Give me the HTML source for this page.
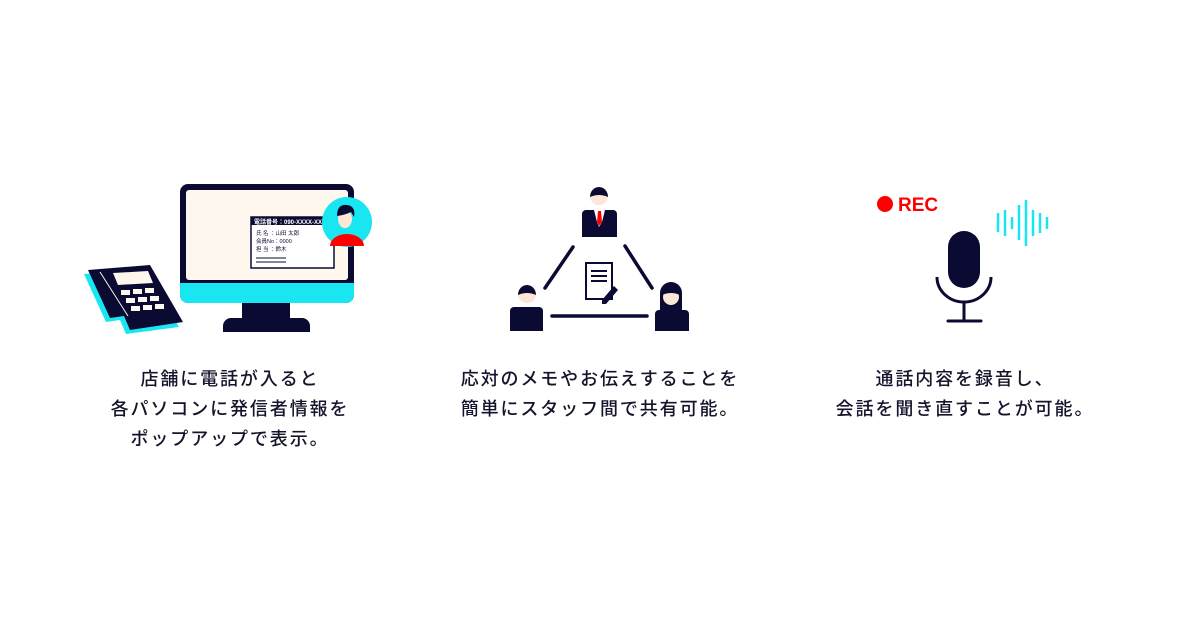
<!DOCTYPE html>
<html><head><meta charset="utf-8"><style>
body{margin:0;background:#fff;width:1200px;height:630px;overflow:hidden;position:relative;font-family:"Liberation Sans","Noto Sans CJK JP",sans-serif;}
.t{position:absolute;top:364px;width:400px;text-align:center;font-size:18px;line-height:30px;color:#14142b;letter-spacing:1.9px;font-weight:500}
</style></head><body>
<svg width="1200" height="630" style="position:absolute;left:0;top:0">
<!-- phone -->
<polygon points="84,274 146,269 179,327 126,334 120,320 106,322" fill="#19e6f0"/>
<polygon points="88,270 150,265 183,322 130,330 124,316 110,318" fill="#0a0a33"/>
<polygon points="113,273 148,271 153,283 118,285" fill="#fdf7ee"/>
<g fill="#fdf7ee">
<rect x="121" y="290" width="9" height="5"/><rect x="133" y="289" width="9" height="5"/><rect x="145" y="288" width="9" height="5"/>
<rect x="126" y="298" width="9" height="5"/><rect x="138" y="297" width="9" height="5"/><rect x="150" y="296" width="9" height="5"/>
<rect x="131" y="306" width="9" height="5"/><rect x="143" y="305" width="9" height="5"/><rect x="155" y="304" width="9" height="5"/>
</g>
<line x1="100" y1="272" x2="128" y2="316" stroke="#fdf7ee" stroke-width="1"/>
<!-- monitor -->
<rect x="180" y="184" width="174" height="119" rx="8" fill="#0a0a33"/>
<path d="M180 283 H354 V295 a8 8 0 0 1 -8 8 H188 a8 8 0 0 1 -8 -8Z" fill="#19e6f0"/>
<rect x="186" y="190" width="162" height="90" rx="3" fill="#fdf7ee"/>
<rect x="242" y="303" width="48" height="16" fill="#0a0a33"/>
<path d="M223 332 V326 a8 8 0 0 1 8 -8 H302 a8 8 0 0 1 8 8 V332Z" fill="#0a0a33"/>
<rect x="251" y="217" width="83" height="51" fill="#fff" stroke="#0a0a33" stroke-width="1.5"/>
<rect x="251" y="217" width="83" height="8" fill="#0a0a33"/>
<text x="254" y="224" font-size="6" fill="#fff" font-weight="bold">電話番号：090-XXXX-XX</text>
<g font-size="5.5" fill="#0a0a33"><text x="256" y="235">氏 名 ：山田 太郎</text><text x="256" y="243">会員No：0000</text><text x="256" y="251">担 当 ：鈴木</text></g>
<line x1="256" y1="258" x2="286" y2="258" stroke="#0a0a33"/><line x1="256" y1="262" x2="286" y2="262" stroke="#0a0a33"/>
<circle cx="347" cy="222" r="25" fill="#19e6f0"/>
<polygon points="323,228 336,226 330,236" fill="#19e6f0"/>
<path d="M330 246 a17 12 0 0 1 34 0 Z" fill="#f00"/>
<ellipse cx="345" cy="219" rx="7" ry="9" fill="#fce6d8"/>
<path d="M337 216 q0 -12 10 -11 q9 1 7 12 l-3 -5 q-6 3 -14 4z" fill="#0a0a33"/>
<!-- team -->
<g fill="#0a0a33">
<path d="M582 237 V214 a4 4 0 0 1 4 -4 H613 a4 4 0 0 1 4 4 V237Z"/>
<path d="M510 331 V311 a4 4 0 0 1 4 -4 H539 a4 4 0 0 1 4 4 V331Z"/>
<path d="M655 331 V314 a4 4 0 0 1 4 -4 H685 a4 4 0 0 1 4 4 V331Z"/>
</g>
<polygon points="594,210 605,210 602,222 599,227 597,222" fill="#fff"/>
<polygon points="598,211 601,211 602,222 599,226 597,222" fill="#f00"/>
<circle cx="599" cy="196" r="9" fill="#fce6d8"/><path d="M590 197 a9 10 0 0 1 18 0 q-9 -4 -18 0z" fill="#0a0a33"/>
<circle cx="527" cy="294" r="9" fill="#fce6d8"/><path d="M518 295 a9 10 0 0 1 18 0 q-9 -4 -18 0z" fill="#0a0a33"/>
<path d="M660 305 V293 a11 11 0 0 1 22 0 V310 H660z" fill="#0a0a33"/>
<circle cx="671" cy="297" r="8" fill="#fce6d8"/><path d="M662 295 a9 10 0 0 1 18 0 q-9 -4 -18 0z" fill="#0a0a33"/>
<g stroke="#0a0a33" stroke-width="3.5" stroke-linecap="round">
<line x1="573" y1="247" x2="545" y2="288"/><line x1="625" y1="246" x2="652" y2="288"/><line x1="552" y1="316" x2="647" y2="316"/>
</g>
<rect x="586" y="263" width="26" height="36" fill="#fff" stroke="#0a0a33" stroke-width="2"/>
<g stroke="#0a0a33" stroke-width="2"><line x1="591" y1="271" x2="607" y2="271"/><line x1="591" y1="276" x2="607" y2="276"/><line x1="591" y1="281" x2="607" y2="281"/></g>
<polygon points="614,286 618,290 606,304 602,304 602,300" fill="#0a0a33"/>
<!-- mic -->
<circle cx="885" cy="204" r="8" fill="#f00"/>
<text x="898" y="211" font-size="19" font-weight="bold" fill="#f00" font-family="Liberation Sans">REC</text>
<rect x="948" y="231" width="32" height="57" rx="16" fill="#0a0a33"/>
<path d="M937 277 a27 25 0 0 0 54 0" fill="none" stroke="#0a0a33" stroke-width="3"/>
<line x1="964" y1="302" x2="964" y2="321" stroke="#0a0a33" stroke-width="3"/>
<line x1="948" y1="321" x2="981" y2="321" stroke="#0a0a33" stroke-width="3" stroke-linecap="round"/>
<g stroke="#19e6f0" stroke-width="2.5">
<line x1="998" y1="213" x2="998" y2="232"/><line x1="1005" y1="210" x2="1005" y2="236"/><line x1="1012" y1="217" x2="1012" y2="229"/>
<line x1="1019" y1="205" x2="1019" y2="240"/><line x1="1026" y1="200" x2="1026" y2="246"/><line x1="1033" y1="210" x2="1033" y2="236"/>
<line x1="1040" y1="213" x2="1040" y2="233"/><line x1="1047" y1="217" x2="1047" y2="229"/>
</g>
</svg>
<div class="t" style="left:30px">店舗に電話が入ると<br>各パソコンに発信者情報を<br>ポップアップで表示。</div>
<div class="t" style="left:400px">応対のメモやお伝えすることを<br>簡単にスタッフ間で共有可能。</div>
<div class="t" style="left:765px">通話内容を録音し、<br>会話を聞き直すことが可能。</div>
</body></html>
